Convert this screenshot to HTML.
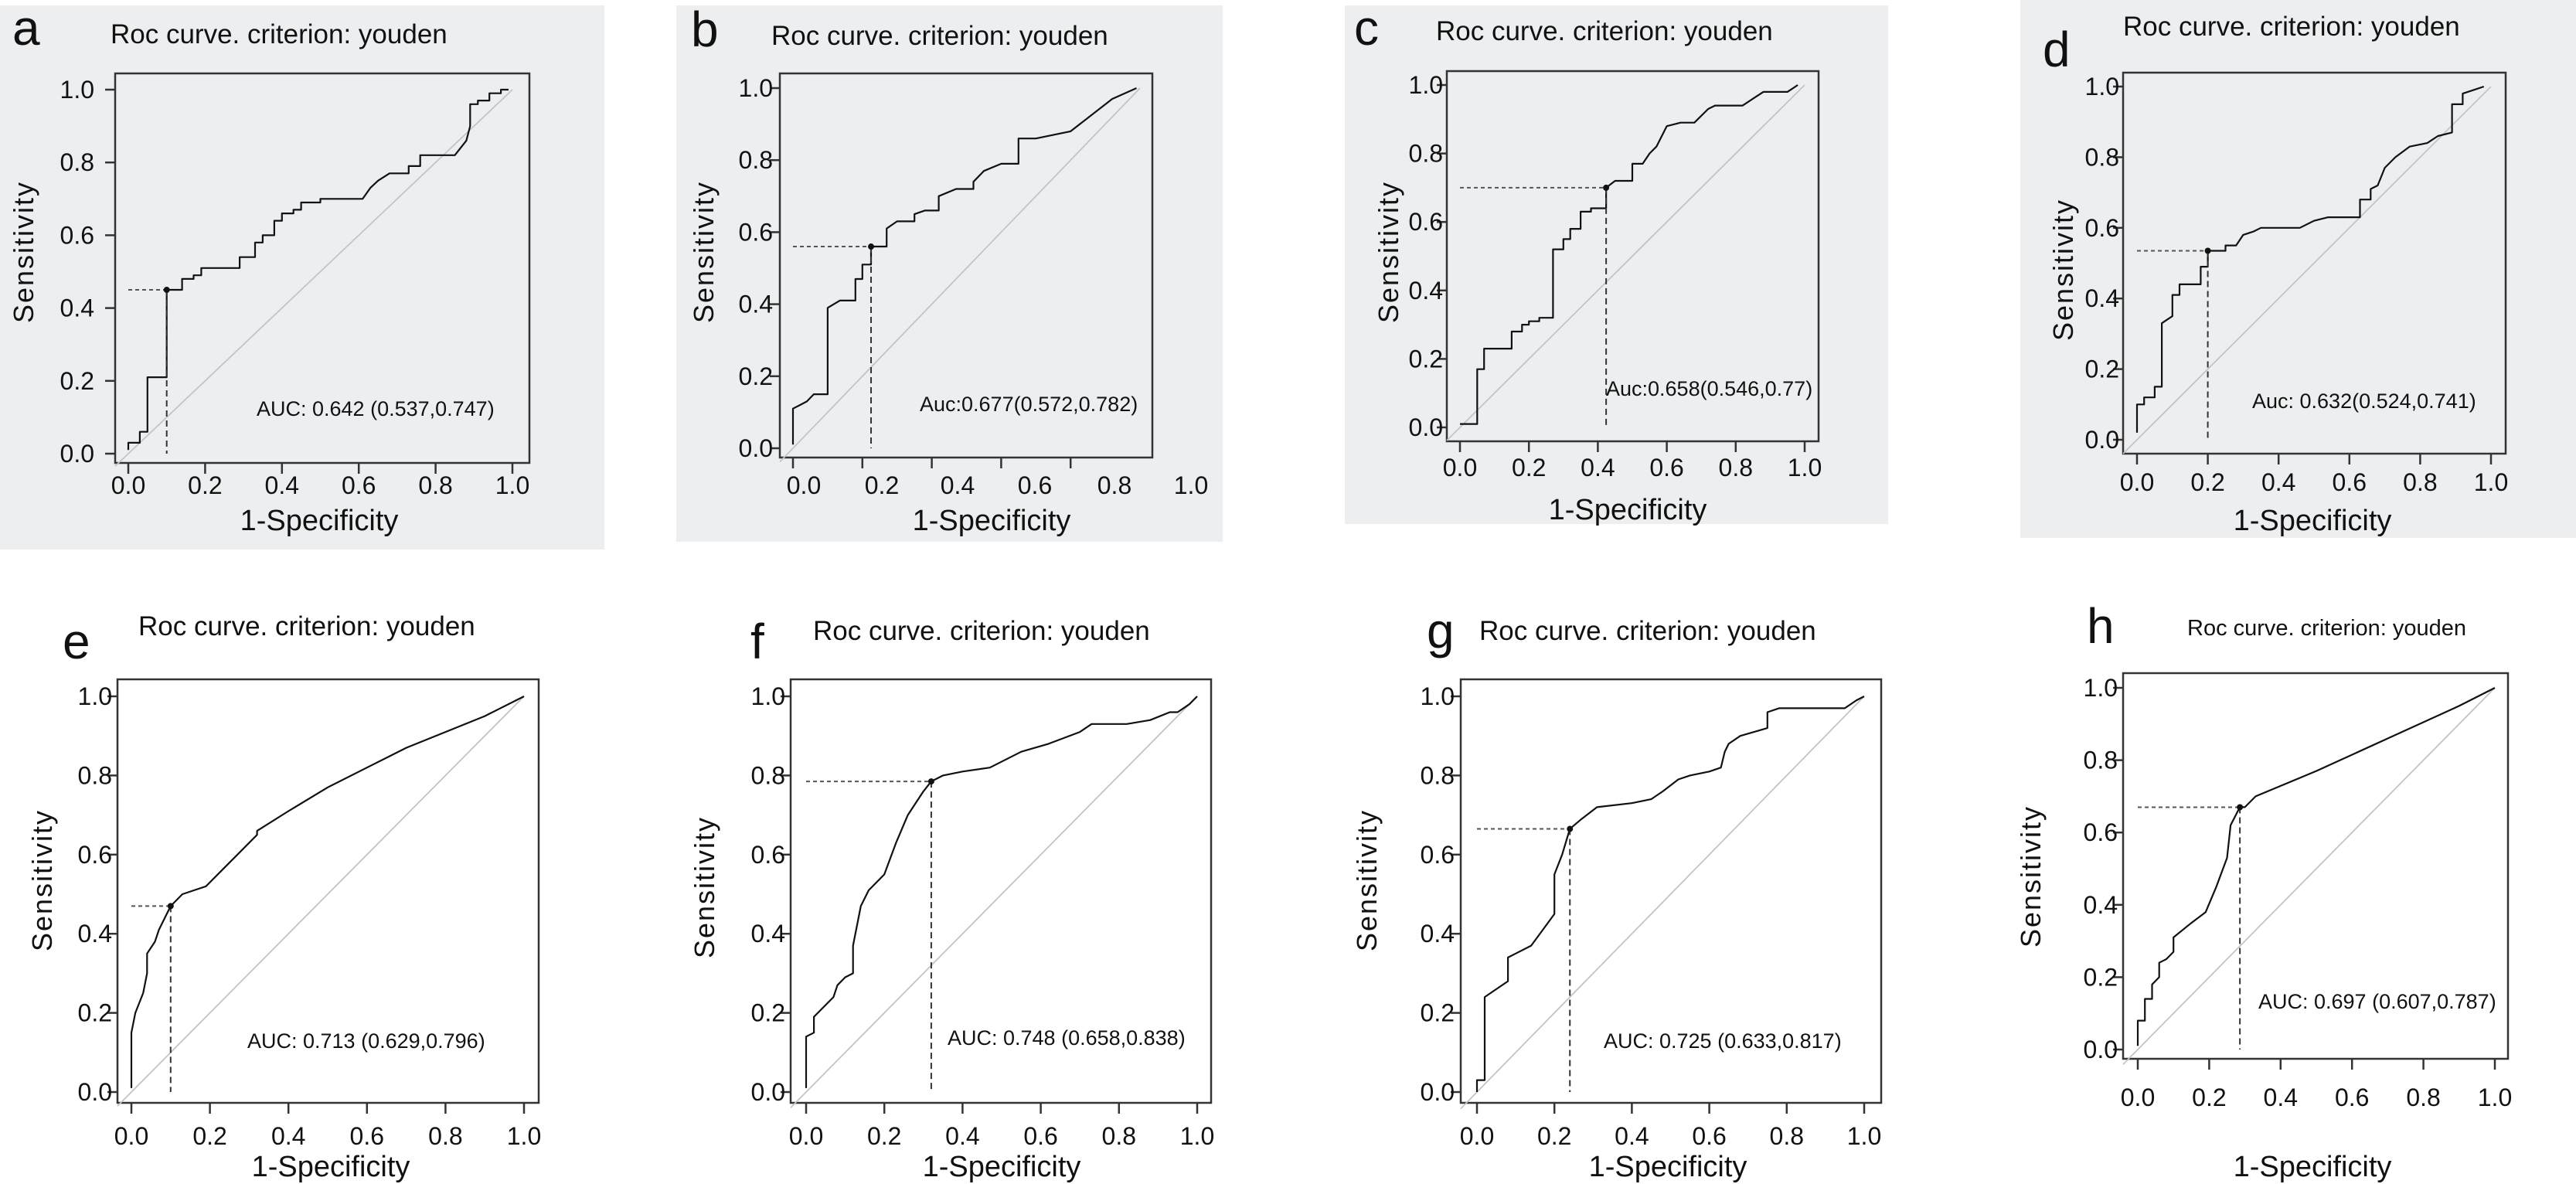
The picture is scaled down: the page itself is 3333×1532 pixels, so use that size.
<!DOCTYPE html>
<html><head><meta charset="utf-8"><style>
html,body{margin:0;padding:0;background:#fff;}
svg{display:block;}
.t{font-family:"Liberation Sans Narrow","Liberation Sans",sans-serif;fill:#111;}
.s{font-family:"Liberation Sans",sans-serif;fill:#111;}
</style></head><body>
<svg id="fig" xmlns="http://www.w3.org/2000/svg" width="3333" height="1532" viewBox="0 0 3333 1532"></svg>
<script>
// ---- data ----
const curveA_x=[0,0,0.03,0.03,0.05,0.05,0.1,0.1,0.14,0.14,0.17,0.17,0.19,0.19,0.29,0.29,0.33,0.33,0.35,0.35,0.38,0.38,0.4,0.4,0.43,0.43,0.45,0.45,0.5,0.5,0.61,0.63,0.65,0.68,0.73,0.73,0.76,0.76,0.85,0.88,0.89,0.89,0.91,0.91,0.94,0.94,0.97,0.97,0.99];
const curveA_y=[0.01,0.03,0.03,0.06,0.06,0.21,0.21,0.45,0.45,0.48,0.48,0.49,0.49,0.51,0.51,0.54,0.54,0.58,0.58,0.6,0.6,0.64,0.64,0.66,0.66,0.67,0.67,0.69,0.69,0.7,0.7,0.73,0.75,0.77,0.77,0.79,0.79,0.82,0.82,0.86,0.9,0.96,0.96,0.97,0.97,0.99,0.99,1.0,1.0];
const curveB_x=[0,0,0.02,0.04,0.06,0.1,0.1,0.135,0.18,0.18,0.2,0.2,0.225,0.225,0.27,0.27,0.3,0.35,0.35,0.38,0.42,0.42,0.47,0.52,0.52,0.55,0.6,0.65,0.65,0.7,0.8,0.92,0.99];
const curveB_y=[0.01,0.11,0.12,0.13,0.15,0.15,0.39,0.41,0.41,0.47,0.47,0.51,0.51,0.56,0.56,0.61,0.63,0.63,0.65,0.66,0.66,0.7,0.72,0.72,0.74,0.77,0.79,0.79,0.86,0.86,0.88,0.97,1.0];
const curveC_x=[0,0.05,0.05,0.07,0.07,0.15,0.15,0.18,0.18,0.2,0.2,0.23,0.23,0.27,0.27,0.3,0.3,0.32,0.32,0.35,0.35,0.38,0.38,0.424,0.424,0.45,0.5,0.5,0.53,0.55,0.57,0.6,0.64,0.68,0.72,0.74,0.82,0.85,0.88,0.95,0.98];
const curveC_y=[0.01,0.01,0.17,0.17,0.23,0.23,0.28,0.28,0.3,0.3,0.31,0.31,0.32,0.32,0.52,0.52,0.55,0.55,0.58,0.58,0.63,0.63,0.64,0.64,0.7,0.72,0.72,0.77,0.77,0.8,0.82,0.88,0.89,0.89,0.93,0.94,0.94,0.96,0.98,0.98,1.0];
const curveD_x=[0,0,0.02,0.02,0.05,0.05,0.07,0.07,0.1,0.1,0.12,0.12,0.18,0.18,0.2,0.2,0.25,0.25,0.28,0.3,0.33,0.35,0.46,0.5,0.54,0.63,0.63,0.66,0.66,0.68,0.7,0.73,0.77,0.82,0.85,0.89,0.89,0.92,0.92,0.95,0.98];
const curveD_y=[0.02,0.1,0.1,0.12,0.12,0.15,0.15,0.33,0.35,0.41,0.41,0.44,0.44,0.49,0.49,0.535,0.535,0.55,0.55,0.58,0.59,0.6,0.6,0.62,0.63,0.63,0.68,0.68,0.71,0.72,0.77,0.8,0.83,0.84,0.86,0.87,0.95,0.95,0.98,0.99,1.0];
const curveE_x=[0,0,0.01,0.03,0.04,0.04,0.06,0.07,0.1,0.13,0.19,0.23,0.27,0.32,0.32,0.4,0.5,0.6,0.7,0.8,0.9,1.0];
const curveE_y=[0.01,0.15,0.2,0.25,0.3,0.35,0.38,0.41,0.47,0.5,0.52,0.56,0.6,0.65,0.66,0.71,0.77,0.82,0.87,0.91,0.95,1.0];
const curveF_x=[0,0,0.02,0.02,0.04,0.07,0.08,0.1,0.12,0.12,0.14,0.16,0.2,0.23,0.26,0.3,0.32,0.35,0.4,0.47,0.55,0.62,0.7,0.73,0.82,0.88,0.93,0.95,0.98,1.0];
const curveF_y=[0.01,0.14,0.15,0.19,0.21,0.24,0.27,0.29,0.3,0.37,0.47,0.51,0.55,0.63,0.7,0.76,0.785,0.8,0.81,0.82,0.86,0.88,0.91,0.93,0.93,0.94,0.96,0.96,0.98,1.0];
const curveG_x=[0,0,0.02,0.02,0.05,0.08,0.08,0.1,0.14,0.17,0.2,0.2,0.22,0.24,0.27,0.31,0.4,0.45,0.48,0.52,0.55,0.6,0.63,0.64,0.65,0.68,0.75,0.75,0.78,0.95,0.98,1.0];
const curveG_y=[0,0.03,0.03,0.24,0.26,0.28,0.34,0.35,0.37,0.41,0.45,0.55,0.6,0.665,0.69,0.72,0.73,0.74,0.76,0.79,0.8,0.81,0.82,0.86,0.88,0.9,0.92,0.96,0.97,0.97,0.99,1.0];
const curveH_x=[0,0,0.02,0.02,0.04,0.04,0.06,0.06,0.08,0.1,0.1,0.15,0.19,0.22,0.25,0.26,0.286,0.3,0.33,0.5,0.7,0.9,1.0];
const curveH_y=[0.01,0.08,0.08,0.14,0.14,0.18,0.2,0.24,0.25,0.27,0.31,0.35,0.38,0.45,0.53,0.62,0.67,0.67,0.7,0.77,0.86,0.95,1.0];
const cutX=[0.1,0.225,0.424,0.2,0.1,0.32,0.24,0.286];
const cutY=[0.45,0.56,0.7,0.535,0.47,0.785,0.665,0.67];
const aucLabels=["AUC: 0.642 (0.537,0.747)","Auc:0.677(0.572,0.782)","Auc:0.658(0.546,0.77)","Auc: 0.632(0.524,0.741)","AUC: 0.713 (0.629,0.796)","AUC: 0.748 (0.658,0.838)","AUC: 0.725 (0.633,0.817)","AUC: 0.697 (0.607,0.787)"];
const panelLetters=["a","b","c","d","e","f","g","h"];
const tickVals=[0,0.2,0.4,0.6,0.8,1.0];
const tickLabels=["0.0","0.2","0.4","0.6","0.8","1.0"];
const curvesX=[curveA_x,curveB_x,curveC_x,curveD_x,curveE_x,curveF_x,curveG_x,curveH_x];
const curvesY=[curveA_y,curveB_y,curveC_y,curveD_y,curveE_y,curveF_y,curveG_y,curveH_y];

// ---- layout (pixel geometry) ----
const layout=[
 {bg:[0,7,782,704],box:[149,95,685,599],x0:166,x1:663,y0:587,y1:116,let:[16,58,64],title:[143,56,35],xl:628,spec:[413,686],sens:[30,326],auc:[332,538],yl:122},
 {bg:[875,7,707,694],box:[1009,95,1491,592],x0:1026,x1:1475,y0:580,y1:114,let:[894,60,64],title:[998,58,35],xl:628,spec:[1283,686],sens:[910,326],auc:[1190,532],yl:1000,xlab:[1040,1141,1239,1339,1442,1541]},
 {bg:[1740,7,703,671],box:[1872,92,2353,571],x0:1889,x1:2335,y0:553,y1:110,let:[1752,58,64],title:[1858,52,35],xl:605,spec:[2106,672],sens:[1796,326],auc:[2078,512],yl:1867},
 {bg:[2614,0,719,696],box:[2747,94,3242,587],x0:2765,x1:3223,y0:569,y1:112,let:[2643,86,64],title:[2747,46,35],xl:624,spec:[2992,686],sens:[2669,349],auc:[2914,528],yl:2742},
 {bg:null,box:[152,879,697,1427],x0:170,x1:678,y0:1413,y1:901,let:[81,852,64],title:[179,822,35],xl:1470,spec:[428,1522],sens:[54,1139],auc:[320,1356],yl:145},
 {bg:null,box:[1023,879,1567,1427],x0:1043,x1:1549,y0:1413,y1:901,let:[971,852,64],title:[1052,828,35],xl:1470,spec:[1296,1522],sens:[911,1148],auc:[1226,1352],yl:1016},
 {bg:null,box:[1890,879,2434,1427],x0:1911,x1:2412,y0:1413,y1:901,let:[1846,838,64],title:[1914,828,35],xl:1470,spec:[2158,1522],sens:[1768,1139],auc:[2075,1356],yl:1882},
 {bg:null,box:[2747,871,3245,1370],x0:2766,x1:3228,y0:1358,y1:890,let:[2700,832,64],title:[2830,822,29],xl:1420,spec:[2992,1522],sens:[2627,1134],auc:[2922,1305],yl:2740}
];
const NS="http://www.w3.org/2000/svg";
const svg=document.getElementById('fig');
function mk(tag,attrs,parent){const e=document.createElementNS(NS,tag);for(const k in attrs)e.setAttribute(k,attrs[k]);(parent||svg).appendChild(e);return e;}

layout.forEach((L,i)=>{
  const g=mk('g',{});
  
  
  const sx=v=>L.x0+(L.x1-L.x0)*v;
  const sy=v=>L.y0+(L.y1-L.y0)*v;
  if(L.bg){const r=mk('rect',{x:L.bg[0],y:L.bg[1],width:L.bg[2],height:L.bg[3],fill:'#eceef0'},g);
    
    }
  const b=L.box;
  const fr=mk('rect',{x:b[0],y:b[1],width:b[2]-b[0],height:b[3]-b[1],fill:'none',stroke:'#333',"stroke-width":2.5},g);
  
  
  // diagonal
  const dg=mk('line',{x1:sx(0)-(sx(0)-b[0]),y1:sy(0)+(sx(0)-b[0])*(L.y0-L.y1)/(L.x1-L.x0),x2:sx(1),y2:sy(1),stroke:'#c4c4c4',"stroke-width":1.8},g);
  
  
  // ticks
  tickVals.forEach((v,k)=>{
    mk('line',{x1:b[0]-13,x2:b[0],y1:sy(v),y2:sy(v),stroke:'#333',"stroke-width":2.5},g);
    const yt=mk('text',{x:L.yl,y:sy(v)+11,"text-anchor":"end","font-size":32,class:'t'},g);
    yt.textContent=tickLabels[k];
    
    
    if(i!==1||v<1){mk('line',{x1:sx(v),x2:sx(v),y1:b[3],y2:b[3]+14,stroke:'#333',"stroke-width":2.5},g);}
    const xp=L.xlab?L.xlab[k]:sx(v);
    const xt=mk('text',{x:xp,y:L.xl+11,"text-anchor":"middle","font-size":32,class:'t'},g);
    xt.textContent=tickLabels[k];
    
    
  });
  // curve
  const xs=curvesX[i],ys=curvesY[i];
  const pts=xs.map((x,k)=>sx(x).toFixed(1)+','+sy(ys[k]).toFixed(1)).join(' ');
  const pl=mk('polyline',{points:pts,fill:'none',stroke:'#111',"stroke-width":2.2,"stroke-linejoin":"round"},g);
  
  
  // cutoff
  const cx=sx(cutX[i]),cy=sy(cutY[i]);
  const hl=mk('line',{x1:sx(0),y1:cy,x2:cx,y2:cy,stroke:'#555',"stroke-width":2,"stroke-dasharray":"5,4"},g);
  
  
  const vl=mk('line',{x1:cx,y1:cy,x2:cx,y2:sy(0),stroke:'#333',"stroke-width":2,"stroke-dasharray":"8,5"},g);
  
  
  const dot=mk('circle',{cx:cx,cy:cy,r:4,fill:'#111'},g);
  
  
  // texts
  const lt=mk('text',{x:L.let[0],y:L.let[1],"font-size":L.let[2],class:'s'},g);
  lt.textContent=panelLetters[i];
  
  
  const tt=mk('text',{x:L.title[0],y:L.title[1],"font-size":L.title[2],class:'t'},g);
  tt.textContent='Roc curve. criterion: youden';
  
  
  const xt=mk('text',{x:L.spec[0],y:L.spec[1],"font-size":38,"text-anchor":"middle",class:'t'},g);
  xt.textContent='1-Specificity';
  
  
  const st=mk('text',{x:0,y:0,"font-size":36,"text-anchor":"middle",class:'s',"letter-spacing":"2",transform:`translate(${L.sens[0]+13},${L.sens[1]}) rotate(-90)`},g);
  st.textContent='Sensitivity';
  
  
  const at=mk('text',{x:L.auc[0],y:L.auc[1],"font-size":27,class:'t'},g);
  at.textContent=aucLabels[i];
  
  
});
</script>
</body></html>
